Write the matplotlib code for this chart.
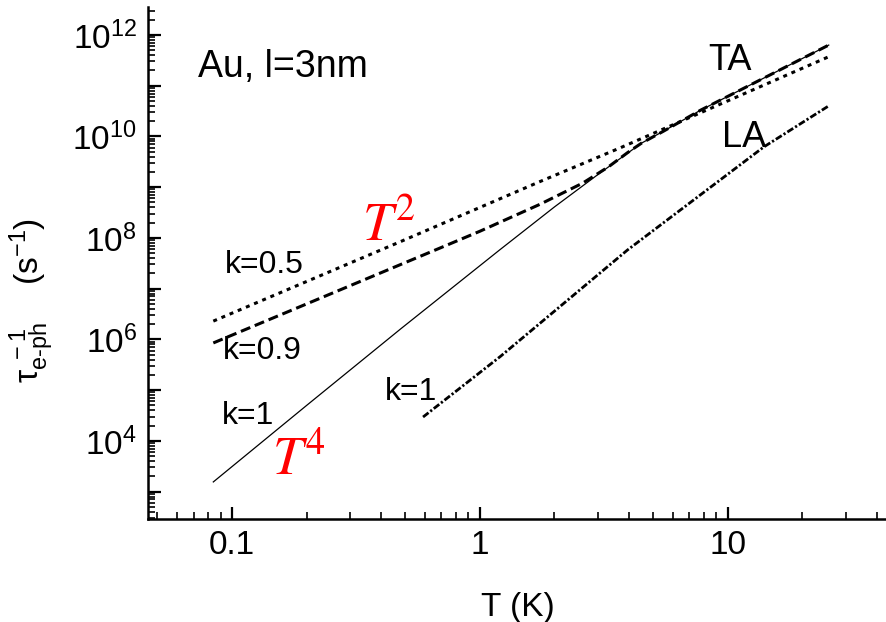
import matplotlib
matplotlib.use("Agg")
import matplotlib.pyplot as plt
import numpy as np
from matplotlib.ticker import LogLocator, FuncFormatter, NullFormatter, FixedLocator

plt.rcParams["font.family"] = ["Liberation Sans", "DejaVu Sans"]
plt.rcParams["mathtext.fontset"] = "custom"
plt.rcParams["mathtext.rm"] = "Liberation Sans"
plt.rcParams["mathtext.it"] = "Liberation Sans:italic"
plt.rcParams["mathtext.default"] = "regular"

# TA phonons, k=1 (solid)
T_ta_k1 = [0.084, 0.2, 0.48, 1.2, 2.0, 3.0, 4.5, 5.5, 7.8, 14, 25.6]
rate_ta_k1 = [1.55e3, 5.0e4, 1.62e6, 5.75e7, 4.07e8, 1.78e9, 7.4e9, 1.26e10, 3.31e10, 1.41e11, 6.31e11]

# TA phonons, k=0.9 (dashed)
T_ta_k09 = [0.084, 0.2, 0.48, 0.69, 1.0, 1.75, 2.6, 3.3, 3.95, 4.5, 5.5, 7.8, 14, 25.6]
rate_ta_k09 = [8.5e5, 5.0e6, 3.0e7, 6.3e7, 1.35e8, 4.6e8, 1.2e9, 2.5e9, 4.8e9, 7.4e9, 1.26e10, 3.31e10, 1.41e11, 6.31e11]

# TA phonons, k=0.5 (dotted)
T_ta_k05 = [0.084, 0.48, 1.0, 1.75, 3.7, 10, 25.6]
rate_ta_k05 = [2.29e6, 8.5e7, 3.98e8, 1.29e9, 6.0e9, 5.0e10, 3.72e11]

# LA phonons, k=1 (dash-dot)
T_la_k1 = [0.59, 1.21, 3.94, 14, 25.6]
rate_la_k1 = [2.95e4, 4.6e5, 5.75e7, 6.2e9, 4.0e10]

fig = plt.figure(figsize=(8.87, 6.22), dpi=100)
ax = fig.add_axes([0.1669, 0.1656, 0.8331, 0.8231])

ax.plot(T_ta_k1, rate_ta_k1, color="black", lw=0.9)
ax.plot(T_ta_k09, rate_ta_k09, color="black", lw=2.2, dashes=(3.3, 1.6))
ax.plot(T_ta_k05, rate_ta_k05, color="black", lw=2.2, dashes=(1.3, 1.6))
ax.plot(T_la_k1, rate_la_k1, color="black", lw=2.0, dashes=(2.5, 0.8, 0.8, 0.8))

ax.set_xscale("log")
ax.set_yscale("log")
ax.set_xlim(0.0458, 44)
ax.set_ylim(10 ** 2.46, 10 ** 12.55)

for s in ["top", "right"]:
    ax.spines[s].set_visible(False)
for s in ["left", "bottom"]:
    ax.spines[s].set_linewidth(1.8)

ax.xaxis.set_major_locator(FixedLocator([0.1, 1, 10]))
ax.xaxis.set_major_formatter(FuncFormatter(lambda v, p: {0.1: "0.1", 1: "1", 10: "10"}.get(round(v, 3), "")))
ax.xaxis.set_minor_locator(LogLocator(base=10, subs=np.arange(2, 10), numticks=20))
ax.xaxis.set_minor_formatter(NullFormatter())

ax.yaxis.set_major_locator(LogLocator(base=10, subs=(1.0,), numticks=20))
ax.yaxis.set_major_formatter(FuncFormatter(
    lambda v, p: r"$10^{%d}$" % round(np.log10(v)) if round(np.log10(v)) % 2 == 0 else ""))
ax.yaxis.set_minor_locator(LogLocator(base=10, subs=np.arange(2, 10), numticks=20))
ax.yaxis.set_minor_formatter(NullFormatter())

ax.tick_params(which="major", direction="in", length=9, width=1.6, labelsize=24, pad=8)
ax.tick_params(which="minor", direction="in", length=5, width=1.2)

ax.set_xlabel("T (K)", fontsize=24, labelpad=22)
ax.set_ylabel("$\\tau_{e\u2010ph}^{\\ -1}$    (s$^{-1}$)", fontsize=24)
ax.yaxis.set_label_coords(-0.125, 0.426)

ax.text(0.0677, 0.883, "Au, l=3nm", transform=ax.transAxes, fontsize=27, ha="left", va="center")
ax.text(0.758, 0.896, "TA", transform=ax.transAxes, fontsize=26, ha="left", va="center")
ax.text(0.777, 0.746, "LA", transform=ax.transAxes, fontsize=26, ha="left", va="center")
ax.text(0.104, 0.496, "k=0.5", transform=ax.transAxes, fontsize=23, ha="left", va="center")
ax.text(0.101, 0.328, "k=0.9", transform=ax.transAxes, fontsize=23, ha="left", va="center")
ax.text(0.100, 0.201, "k=1", transform=ax.transAxes, fontsize=23, ha="left", va="center")
ax.text(0.321, 0.248, "k=1", transform=ax.transAxes, fontsize=23, ha="left", va="center")
ax.text(0.290, 0.545, r"$\mathit{T}^{\mathrm{2}}$", transform=ax.transAxes, fontsize=39, color="red",
        ha="left", va="baseline", math_fontfamily="stix")
ax.text(0.168, 0.086, r"$\mathit{T}^{\mathrm{4}}$", transform=ax.transAxes, fontsize=39, color="red",
        ha="left", va="baseline", math_fontfamily="stix")

fig.savefig("out.png", dpi=100)
